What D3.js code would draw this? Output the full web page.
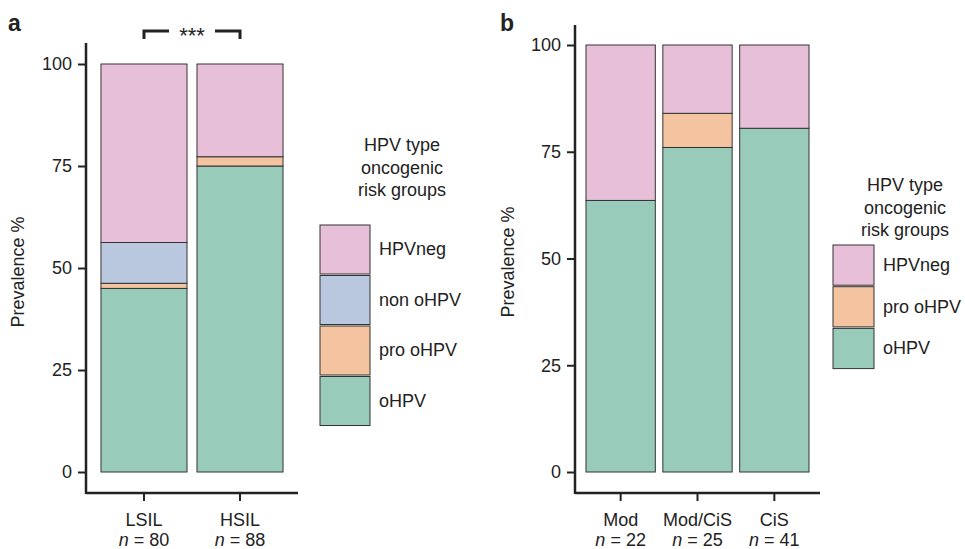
<!DOCTYPE html>
<html><head><meta charset="utf-8">
<script src="https://cdn.jsdelivr.net/npm/d3@7"></script>
<style>
body{margin:0;background:#fff;}
text{font-family:"Liberation Sans",Arial,Helvetica,sans-serif;fill:#222;}
</style></head>
<body><svg id="chart" width="965" height="549"></svg>
<script>
// ---- Data ----
const groupsA = ["LSIL","HSIL"];
const nA = [80, 88];
const keysA = ["oHPV","pro oHPV","non oHPV","HPVneg"];
const oHPV_A = [45.0, 75.0];
const proOHPV_A = [1.25, 2.27];
const nonOHPV_A = [10.0, 0.0];
const HPVneg_A = [43.75, 22.73];

const groupsB = ["Mod","Mod/CiS","CiS"];
const nB = [22, 25, 41];
const keysB = ["oHPV","pro oHPV","HPVneg"];
const oHPV_B = [63.6, 76.0, 80.5];
const proOHPV_B = [0.0, 8.0, 0.0];
const HPVneg_B = [36.4, 16.0, 19.5];

const yTicks = [0, 25, 50, 75, 100];
const colors = {"HPVneg":"#e8bfd8","non oHPV":"#b9c8de","pro oHPV":"#f4c4a1","oHPV":"#99cbba"};

const svg = d3.select("#chart");
const FS = "18px";

function panel(cfg){
  const g = svg.append("g");
  const rows = cfg.groups.map((grp,i)=>{
    const r = {group:grp};
    cfg.keys.forEach(k=>{ r[k] = cfg.vals[k][i]; });
    return r;
  });
  const x = d3.scaleBand().domain(cfg.groups).range(cfg.xr).paddingInner(cfg.pi).paddingOuter(cfg.po);
  const y = d3.scaleLinear().domain([0,100]).range(cfg.yr);
  const stack = d3.stack().keys(cfg.keys)(rows);
  g.selectAll("g.layer").data(stack).join("g").attr("class","layer")
    .attr("fill", d=>colors[d.key])
    .selectAll("rect").data(d=>d.filter(s=>s[1]-s[0]>0)).join("rect")
    .attr("x", d=>x(d.data.group)).attr("width", x.bandwidth())
    .attr("y", d=>y(d[1])).attr("height", d=>y(d[0])-y(d[1]))
    .attr("stroke","#333").attr("stroke-width",1);

  // y axis
  const ya = g.append("g").attr("transform",`translate(${cfg.xr[0]},0)`)
    .call(d3.axisLeft(y).tickValues(yTicks).tickSize(8).tickPadding(6));
  ya.select(".domain").remove();
  ya.selectAll(".tick line").attr("stroke","#222").attr("stroke-width",2);
  ya.selectAll(".tick text").style("font-size",FS).attr("fill","#222");
  g.append("line").attr("x1",cfg.xr[0]).attr("x2",cfg.xr[0]).attr("y1",cfg.axTop).attr("y2",cfg.axBot+1)
    .attr("stroke","#222").attr("stroke-width",2.5);
  // x axis
  g.append("line").attr("x1",cfg.xr[0]).attr("x2",cfg.xr[1]).attr("y1",cfg.axBot).attr("y2",cfg.axBot)
    .attr("stroke","#222").attr("stroke-width",2.5);
  cfg.groups.forEach((grp,i)=>{
    const cx = x(grp)+x.bandwidth()/2;
    g.append("line").attr("x1",cx).attr("x2",cx).attr("y1",cfg.axBot).attr("y2",cfg.axBot+8)
      .attr("stroke","#222").attr("stroke-width",2);
    g.append("text").attr("x",cx).attr("y",cfg.axBot+33).attr("text-anchor","middle")
      .style("font-size",FS).text(grp);
    const t = g.append("text").attr("x",cx).attr("y",cfg.axBot+53).attr("text-anchor","middle")
      .style("font-size",FS);
    t.append("tspan").style("font-style","italic").text("n");
    t.append("tspan").text(" = "+cfg.n[i]);
  });
  // y title
  g.append("text").attr("transform",`translate(${cfg.ytx},${cfg.yty}) rotate(-90)`)
    .attr("text-anchor","middle").style("font-size",FS).text("Prevalence %");
  // panel letter
  g.append("text").attr("x",cfg.lx).attr("y",31).style("font-size","23px").style("font-weight","bold").text(cfg.letter);
  // legend
  const titleLines = ["HPV type","oncogenic","risk groups"];
  titleLines.forEach((l,i)=>{
    g.append("text").attr("x",cfg.legTx).attr("y",cfg.legTy+i*22.5).attr("text-anchor","middle")
      .style("font-size",FS).text(l);
  });
  const legKeys = cfg.keys.slice().reverse();
  legKeys.forEach((k,i)=>{
    const y0 = cfg.legBy + i*cfg.legH;
    g.append("rect").attr("x",cfg.legBx).attr("y",y0).attr("width",cfg.legW).attr("height",cfg.legH-1.5)
      .attr("fill",colors[k]).attr("stroke","#333").attr("stroke-width",1);
    g.append("text").attr("x",cfg.legBx+cfg.legW+9).attr("y",y0+cfg.legH/2+5)
      .style("font-size",FS).text(k);
  });
  return {g,x,y};
}

const pa = panel({groups:groupsA,n:nA,keys:keysA,
  vals:{"oHPV":oHPV_A,"pro oHPV":proOHPV_A,"non oHPV":nonOHPV_A,"HPVneg":HPVneg_A},
  xr:[86,298],pi:0.104,po:0.156,yr:[472,64],axTop:43,axBot:493,
  ytx:24,yty:272,lx:8,letter:"a",
  legTx:402,legTy:151,legBx:320,legBy:225,legW:50,legH:50.5});

const pb = panel({groups:groupsB,n:nB,keys:keysB,
  vals:{"oHPV":oHPV_B,"pro oHPV":proOHPV_B,"HPVneg":HPVneg_B},
  xr:[575,820],pi:0.098,po:0.143,yr:[472,45],axTop:25,axBot:493,
  ytx:514,yty:262,lx:500,letter:"b",
  legTx:905,legTy:191,legBx:833,legBy:245,legW:41,legH:41.7});

// significance bracket (panel a)
const xa = pa.x;
const c1 = xa("LSIL")+xa.bandwidth()/2, c2 = xa("HSIL")+xa.bandwidth()/2;
const by = 31;
svg.append("path").attr("d",`M${c1},${by+8}V${by}H${c1+25}`).attr("fill","none").attr("stroke","#222").attr("stroke-width",3);
svg.append("path").attr("d",`M${c2-25},${by}H${c2}V${by+8}`).attr("fill","none").attr("stroke","#222").attr("stroke-width",3);
svg.append("text").attr("x",(c1+c2)/2).attr("y",43).attr("text-anchor","middle").style("font-size","22px").text("***");
</script></body></html>
